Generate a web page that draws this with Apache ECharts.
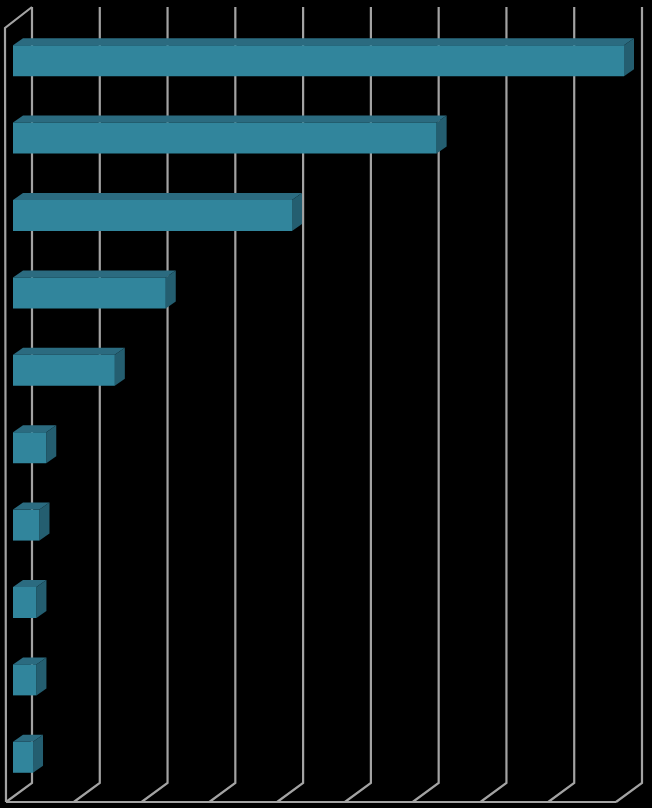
<!DOCTYPE html>
<html>
<head>
<meta charset="utf-8">
<script src="https://cdn.jsdelivr.net/npm/echarts@6.0.0/dist/echarts.min.js"></script>
<style>
  html, body { margin: 0; padding: 0; background: #000; }
  #chart { width: 652px; height: 808px; }
</style>
</head>
<body>
<div id="chart"></div>
<script>
// 10 bars, top to bottom, no labels in the picture
const categories = ['1', '2', '3', '4', '5', '6', '7', '8', '9', '10'];
const values = [9.0, 6.24, 4.11, 2.25, 1.5, 0.49, 0.39, 0.345, 0.345, 0.295];
const xTicks = [0, 1, 2, 3, 4, 5, 6, 7, 8, 9];

const GRID_COLOR = '#a3a3a3';
const FRONT = '#31859c';
const TOP = '#2b6b80';
const SIDE = '#245e70';
const BAR_DEPTH = [10, -7];   // bar top/side face offset
const FLOOR_DEPTH = [-26, 19]; // back wall -> front edge of floor

const myChart = echarts.init(document.getElementById('chart'));

// back wall + floor + left wall
function renderFrame(params, api) {
  const t = api.value(0);
  const top = api.coord([t, 1]);
  const bot = api.coord([t, 0]);
  const front = [bot[0] + FLOOR_DEPTH[0], bot[1] + FLOOR_DEPTH[1]];
  const style = { stroke: GRID_COLOR, lineWidth: 2.2, fill: null };
  const children = [
    { type: 'polyline', shape: { points: [top, bot, front] }, style: style }
  ];
  if (params.dataIndex === 0) {
    const last = api.coord([xTicks[xTicks.length - 1], 0]);
    const lastFront = [last[0] + FLOOR_DEPTH[0], last[1] + FLOOR_DEPTH[1]];
    // front edge of floor
    children.push({ type: 'line', shape: { x1: front[0], y1: front[1], x2: lastFront[0], y2: lastFront[1] }, style: style });
    // left wall
    const wallTop = [top[0] + FLOOR_DEPTH[0] - 1, top[1] + FLOOR_DEPTH[1] + 2];
    children.push({ type: 'polyline', shape: { points: [top, wallTop, front] }, style: style });
  }
  return { type: 'group', children: children };
}

function renderBar(params, api) {
  const idx = api.value(0);
  const v = api.value(1);
  const start = api.coord([0, idx]);
  const end = api.coord([v, idx]);
  const h = api.size([0, 1])[1] * 0.4;
  const y0 = start[1] - h / 2;
  const y1 = start[1] + h / 2;
  const x0 = start[0];
  const x1 = end[0];
  const dx = BAR_DEPTH[0], dy = BAR_DEPTH[1];
  return {
    type: 'group',
    children: [
      { type: 'polygon', shape: { points: [[x0, y0], [x1, y0], [x1 + dx, y0 + dy], [x0 + dx, y0 + dy]] }, style: { fill: TOP } },
      { type: 'polygon', shape: { points: [[x1, y0], [x1 + dx, y0 + dy], [x1 + dx, y1 + dy], [x1, y1]] }, style: { fill: SIDE } },
      { type: 'rect', shape: { x: x0, y: y0, width: x1 - x0, height: y1 - y0 }, style: { fill: FRONT } }
    ]
  };
}

const option = {
  backgroundColor: '#000',
  animation: false,
  grid: [
    { left: 32, right: 10, top: 7, bottom: 25 },   // back wall
    { left: 13, right: 28, top: 22, bottom: 12 }   // bar front plane
  ],
  xAxis: [
    { gridIndex: 0, type: 'value', min: 0, max: 9, interval: 1, show: false },
    { gridIndex: 1, type: 'value', min: 0, max: 9, interval: 1, show: false }
  ],
  yAxis: [
    { gridIndex: 0, type: 'value', min: 0, max: 1, show: false },
    { gridIndex: 1, type: 'category', data: categories, inverse: true, show: false }
  ],
  series: [
    {
      type: 'custom',
      xAxisIndex: 0,
      yAxisIndex: 0,
      clip: false,
      renderItem: renderFrame,
      encode: { x: 0 },
      data: xTicks.map(function (t) { return [t]; }),
      z: 1
    },
    {
      type: 'custom',
      xAxisIndex: 1,
      yAxisIndex: 1,
      clip: false,
      renderItem: renderBar,
      encode: { x: 1, y: 0 },
      data: values.map(function (v, i) { return [i, v]; }),
      z: 2
    }
  ]
};

myChart.setOption(option);
window.addEventListener('resize', myChart.resize);
</script>
</body>
</html>
